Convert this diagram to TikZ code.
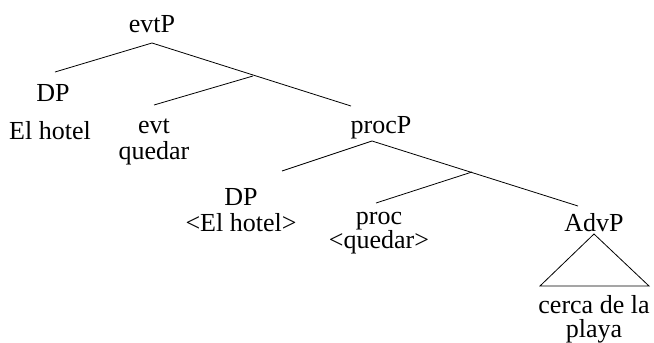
\documentclass[tikz,border=0pt]{standalone}
\usepackage{fontspec}
\setmainfont{Liberation Serif}
\newfontfamily\treefont{Liberation Serif}
\begin{document}
\begin{tikzpicture}[x=0.75pt,y=-0.75pt,
  lbl/.style={anchor=base,inner sep=0pt,align=center,
    font=\treefont\fontsize{19.5}{19.5}\selectfont},
  branch/.style={line width=0.6pt,draw=black}]
\useasboundingbox (0,0) rectangle (654,343);

% labels (anchored on the baseline of their last line)
\node[lbl] (evtP)   at (152,32)  {evtP};
\node[lbl] (DPa)    at (53,101)  {DP};
\node[lbl] (hotela) at (50,139)  {El hotel};
\node[lbl] (evt)    at (154,159) {evt\\quedar};
\node[lbl] (procP)  at (381,133) {procP};
\node[lbl] (DPb)    at (241,231) {DP\\{<}El hotel{>}};
\node[lbl] (proc)   at (379,248) {proc\\[-1.5pt]{<}quedar{>}};
\node[lbl] (AdvP)   at (594,231) {AdvP};
\node[lbl] (cerca)  at (594,337) {cerca de la\\[-1.5pt]playa};

% branching points and branch ends
\coordinate (evtP-r)  at (152,43);
\coordinate (evtP-m)  at (253,76);
\coordinate (DPa-t)   at (55,72);
\coordinate (evt-t)   at (154,105);
\coordinate (procP-t) at (351,106);
\coordinate (procP-r) at (372,141);
\coordinate (procP-m) at (472,172);
\coordinate (DPb-t)   at (282,171);
\coordinate (proc-t)  at (376,203);
\coordinate (AdvP-t)  at (578,206);
\coordinate (tri-a)   at (594,234);
\coordinate (tri-l)   at (540,286);
\coordinate (tri-r)   at (649,286);

% branches
\draw[branch] (DPa-t) -- (evtP-r) -- (procP-t);
\draw[branch] (evt-t) -- (evtP-m);
\draw[branch] (DPb-t) -- (procP-r) -- (AdvP-t);
\draw[branch] (proc-t) -- (procP-m);
\draw[branch] (tri-a) -- (tri-l) -- (tri-r) -- cycle;
\end{tikzpicture}
\end{document}
